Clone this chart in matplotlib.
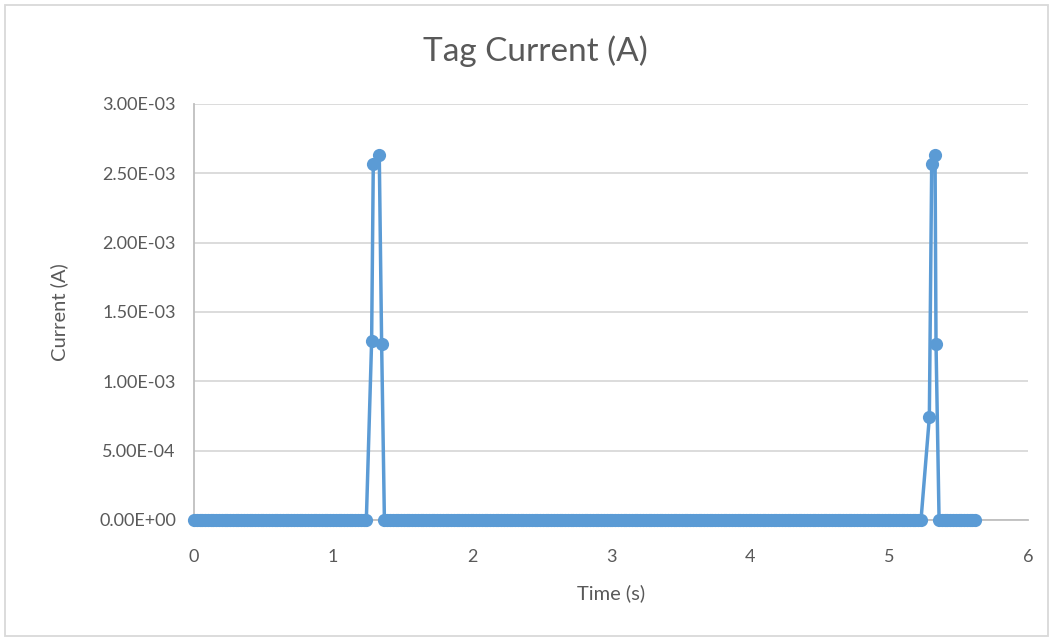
import numpy as np
import matplotlib.pyplot as plt
from matplotlib.ticker import FuncFormatter
from matplotlib.patches import Rectangle

plt.rcParams['font.family'] = ['Lato', 'DejaVu Sans']

# Tag current samples: idle readings (zero) plus two transmit bursts
idle_1 = np.round(np.arange(0.0, 1.255, 0.02), 3)
burst_1_t = [1.278, 1.290, 1.333, 1.350]
burst_1_i = [1.29e-3, 2.57e-3, 2.63e-3, 1.27e-3]
idle_2 = np.round(np.arange(1.37, 5.24, 0.02), 3)
burst_2_t = [5.290, 5.307, 5.331, 5.338]
burst_2_i = [7.4e-4, 2.57e-3, 2.63e-3, 1.27e-3]
idle_3 = np.round(np.arange(5.36, 5.63, 0.02), 3)

time_s = np.concatenate([idle_1, burst_1_t, idle_2, burst_2_t, idle_3])
current_a = np.concatenate([np.zeros(len(idle_1)), burst_1_i,
                            np.zeros(len(idle_2)), burst_2_i,
                            np.zeros(len(idle_3))])

gray = '#595959'
blue = '#5B9BD5'

fig = plt.figure(figsize=(10.53, 6.41), dpi=100)
ax = fig.add_axes([0.1842, 0.1888, 0.7921, 0.649])

ax.plot(time_s, current_a, color=blue, lw=2.5, marker='o', ms=9.5,
        markeredgewidth=0, clip_on=False, zorder=3)

ax.set_xlim(0, 6)
ax.set_ylim(0, 3e-3)
ax.set_xticks(range(7))
ax.set_yticks(np.arange(0, 3.01e-3, 5e-4))
ax.yaxis.set_major_formatter(FuncFormatter(lambda v, p: f'{v:.2E}'))

ax.grid(axis='y', color='#d9d9d9', lw=1.3)
ax.set_axisbelow(True)
for s in ['top', 'right']:
    ax.spines[s].set_visible(False)
for s in ['left', 'bottom']:
    ax.spines[s].set_color('#bfbfbf')
    ax.spines[s].set_linewidth(1.3)
ax.tick_params(length=0, colors=gray, labelsize=13)
ax.tick_params(axis='y', pad=13)
ax.tick_params(axis='x', pad=21)

fig.text(0.508, 0.92, 'Tag Current (A)', fontsize=24, color=gray,
         ha='center', va='center')
ax.set_xlabel('Time (s)', fontsize=14.5, color=gray, labelpad=14)
ax.set_ylabel('Current (A)', fontsize=14.5, color=gray, labelpad=22)

# light chart-area border
fig.patches.append(Rectangle((0.005, 0.008), 0.99, 0.984, transform=fig.transFigure,
                             fill=False, edgecolor='#d9d9d9', lw=1.3))

fig.savefig('out.png', dpi=100)
